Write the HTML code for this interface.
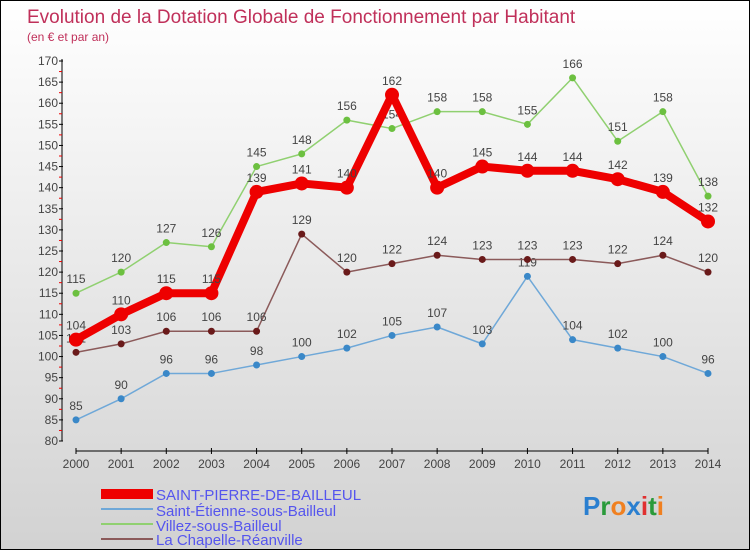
<!DOCTYPE html>
<html><head><meta charset="utf-8"><style>
body{margin:0}
#c{width:750px;height:550px;position:relative;box-sizing:border-box;border:1px solid #000;background:linear-gradient(#fff,#d2d2d2);font-family:"Liberation Sans",sans-serif;overflow:hidden}
svg text{font-family:"Liberation Sans",sans-serif}
</style></head><body>
<div id="c">
<svg width="750" height="550" id="s">
<text x="26" y="22" font-size="19" fill="#c0305a">Evolution de la Dotation Globale de Fonctionnement par Habitant</text>
<text x="26" y="40" font-size="12" fill="#c0305a">(en € et par an)</text>
<g id="g"></g>
<g>
<rect x="100" y="488" width="52" height="10" fill="#e00"/>
<text x="155" y="499" font-size="15" fill="#5555ee">SAINT-PIERRE-DE-BAILLEUL</text>
<rect x="100" y="507" width="52" height="2" fill="#6fa8d8"/>
<text x="155" y="515" font-size="15" fill="#5555ee">Saint-Étienne-sous-Bailleul</text>
<rect x="100" y="522" width="52" height="2" fill="#90d070"/>
<text x="155" y="530" font-size="15" fill="#5555ee">Villez-sous-Bailleul</text>
<rect x="100" y="537" width="52" height="2" fill="#8b5a5a"/>
<text x="155" y="544" font-size="15" fill="#5555ee">La Chapelle-Réanville</text>
</g>
<text x="582" y="514" font-size="26" font-weight="bold"><tspan fill="#2a7fd0">P</tspan><tspan fill="#2a9a3a">r</tspan><tspan fill="#f08020">o</tspan><tspan fill="#2a7fd0">x</tspan><tspan fill="#e03030">i</tspan><tspan fill="#2a9a3a">t</tspan><tspan fill="#f08020">i</tspan></text>
</svg></div>
<script>
const years=[2000,2001,2002,2003,2004,2005,2006,2007,2008,2009,2010,2011,2012,2013,2014];
const spb=[104,110,115,115,139,141,140,162,140,145,144,144,142,139,132];
const ste=[85,90,96,96,98,100,102,105,107,103,119,104,102,100,96];
const vil=[115,120,127,126,145,148,156,154,158,158,155,166,151,158,138];
const lch=[101,103,106,106,106,129,120,122,124,123,123,123,122,124,120];
const yTicks=[80,85,90,95,100,105,110,115,120,125,130,135,140,145,150,155,160,165,170];
const NS="http://www.w3.org/2000/svg";
const g=document.getElementById('g');
const X=i=>75+i*(707-75)/14;
const Y=v=>440-(v-80)*(380/90);
function mk(t,a){const e=document.createElementNS(NS,t);for(const k in a)e.setAttribute(k,a[k]);g.appendChild(e);return e;}
let e=mk('line',{x1:61,y1:58,x2:61,y2:440,stroke:'#000'});


e=mk('line',{x1:75,y1:450,x2:707,y2:450,stroke:'#000'});


yTicks.forEach(v=>{
  mk('line',{x1:58,y1:Y(v),x2:62,y2:Y(v),stroke:'#000'});
  if(v<170) mk('line',{x1:58,y1:Y(v+2.5),x2:61,y2:Y(v+2.5),stroke:'#e00'});
  const t=mk('text',{x:57,y:Y(v)+4,'font-size':12,fill:'#444','text-anchor':'end'});
  t.textContent=v;
  
  
});
years.forEach((y,i)=>{
  mk('line',{x1:X(i),y1:447,x2:X(i),y2:453,stroke:'#000'});
  const t=mk('text',{x:X(i),y:467,'font-size':12,fill:'#444','text-anchor':'middle'});
  t.textContent=y;
  
  
});
function series(d,col,w,r,fill,name){
  const p=mk('polyline',{points:d.map((v,i)=>X(i)+','+Y(v)).join(' '),fill:'none',stroke:col,'stroke-width':w,'stroke-linejoin':'round'});
  
  
  d.forEach((v,i)=>{
    const c=mk('circle',{cx:X(i),cy:Y(v),r:r,fill:fill});
    
    
    const t=mk('text',{x:X(i),y:Y(v)-10,'font-size':12,fill:'#444','text-anchor':'middle'});
    t.textContent=v;
    
    
  });
}
series(ste,'#6fa8d8',1.5,3.5,'#3a88c8','saint-etienne');
series(vil,'#90d070',1.5,3.5,'#6cc040','villez');
series(lch,'#8b5a5a',1.5,3.5,'#6a1a1a','la-chapelle');
series(spb,'#e00',8,7,'#e00','saint-pierre');
</script>
</body></html>
